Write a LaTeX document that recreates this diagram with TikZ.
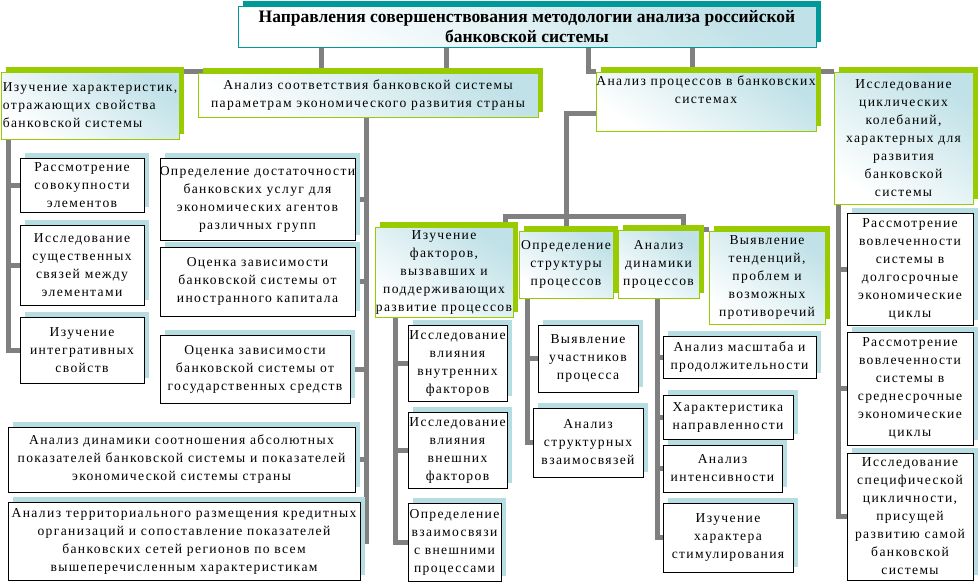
\documentclass[tikz,border=0pt]{standalone}
\usepackage{fontspec}
\setmainfont{Liberation Serif}
\newfontfamily\spacedfont{Liberation Serif}[LetterSpace=10]
\usepackage{tikz}
\usetikzlibrary{positioning,shadows,backgrounds}
\definecolor{NMTeal}{HTML}{009999}
\definecolor{NMGreen}{HTML}{99CC00}
\definecolor{NMShade}{HTML}{B5DDE2}
\definecolor{NMTint}{HTML}{BFE1E7}
\definecolor{NMLink}{HTML}{808080}

\begin{document}
\begin{tikzpicture}[x=1pt,y=-1pt,
    link/.style={draw=NMLink,line width=5pt},
    titlebox/.style={draw=NMTeal,shading=axis,top color=NMTint,bottom color=white,shading angle=-35,
      general shadow={fill=NMTeal,shadow xshift=5pt,shadow yshift=5pt},
      align=center,inner sep=0pt,font=\bfseries\fontsize{17.5}{20}\selectfont},
    groupbox/.style={draw=NMGreen,shading=axis,top color=NMTint,bottom color=white,shading angle=-35,
      general shadow={fill=NMGreen,shadow xshift=5pt,shadow yshift=5pt},
      align=center,inner sep=0pt,font=\spacedfont\fontsize{13.6}{18}\selectfont},
    itembox/.style={draw=black,fill=white,
      general shadow={fill=NMShade,shadow xshift=5pt,shadow yshift=5pt},
      align=center,inner sep=0pt,font=\spacedfont\fontsize{13.6}{18}\selectfont}]
    \useasboundingbox (0,0) rectangle (979,582);

    % top
    \node[titlebox,minimum width=578,minimum height=41] (title) at (527,26.5)
      {Направления совершенствования методологии анализа российской\\банковской системы};

    % first level
    \node[groupbox,align=left,minimum width=178,minimum height=67] (a1) at (90,105.5)
      {Изучение характеристик,\\отражающих свойства\\банковской системы};
    \node[groupbox,minimum width=340,minimum height=44] (a2) at (368,95)
      {Анализ соответствия банковской системы\\параметрам экономического развития страны};
    \node[groupbox,minimum width=220,minimum height=59] (a3) at (706,101.5)
      {Анализ процессов в банковских\\системах\\\strut};
    \node[groupbox,minimum width=139,minimum height=132] (a4) at (903.5,138)
      {Исследование\\циклических\\колебаний,\\характерных для\\развития\\банковской\\системы};

    % characteristics
    \node[itembox,minimum width=124,minimum height=54] (b1) at (82,185) {Рассмотрение\\совокупности\\элементов};
    \node[itembox,minimum width=124,minimum height=80] (b2) at (82,265) {Исследование\\существенных\\связей между\\элементами};
    \node[itembox,minimum width=124,minimum height=66] (b3) at (82,350) {Изучение\\интегративных\\свойств};

    % correspondence
    \node[itembox,minimum width=195,minimum height=82] (c1) at (257.5,199)
      {Определение достаточности\\банковских услуг для\\экономических агентов\\различных групп};
    \node[itembox,minimum width=195,minimum height=69] (c2) at (257.5,281.5)
      {Оценка зависимости\\банковской системы от\\иностранного капитала};
    \node[itembox,minimum width=190,minimum height=68] (c3) at (255,369)
      {Оценка зависимости\\банковской системы от\\государственных средств};
    \node[itembox,minimum width=347,minimum height=65] (c4) at (181.5,459.5)
      {Анализ динамики соотношения абсолютных\\показателей банковской системы и показателей\\экономической системы страны};
    \node[itembox,minimum width=352,minimum height=78] (c5) at (184,541)
      {Анализ территориального размещения кредитных\\организаций и сопоставление показателей\\банковских сетей регионов по всем\\вышеперечисленным характеристикам};

    % processes
    \node[groupbox,minimum width=138,minimum height=90] (d1) at (444,272)
      {Изучение\\факторов,\\вызвавших и\\поддерживающих\\развитие процессов};
    \node[groupbox,minimum width=94,minimum height=67] (d2) at (566,264.5) {Определение\\структуры\\процессов};
    \node[groupbox,minimum width=81,minimum height=68] (d3) at (658.5,264) {Анализ\\динамики\\процессов};
    \node[groupbox,minimum width=116,minimum height=93] (d4) at (767,277.5)
      {Выявление\\тенденций,\\проблем и\\возможных\\противоречий};

    \node[itembox,minimum width=99,minimum height=76] (e1) at (457.5,363) {Исследование\\влияния\\внутренних\\факторов};
    \node[itembox,minimum width=99,minimum height=76] (e2) at (457.5,450) {Исследование\\влияния\\внешних\\факторов};
    \node[itembox,minimum width=93,minimum height=78] (e3) at (454.5,542) {Определение\\взаимосвязи\\с внешними\\процессами};

    \node[itembox,minimum width=100,minimum height=67] (f1) at (588,358.5) {Выявление\\участников\\процесса};
    \node[itembox,minimum width=110,minimum height=69] (f2) at (588,442.5) {Анализ\\структурных\\взаимосвязей};

    \node[itembox,minimum width=153,minimum height=42] (g1) at (739.5,357) {Анализ масштаба и\\продолжительности};
    \node[itembox,minimum width=130,minimum height=44] (g2) at (728,417) {Характеристика\\направленности};
    \node[itembox,minimum width=119,minimum height=47] (g3) at (722.5,468.5) {Анализ\\интенсивности};
    \node[itembox,minimum width=130,minimum height=69] (g4) at (728,537.5) {Изучение\\характера\\стимулирования};

    % cycles
    \node[itembox,minimum width=126,minimum height=112] (h1) at (910,269)
      {Рассмотрение\\вовлеченности\\системы в\\долгосрочные\\экономические\\циклы};
    \node[itembox,minimum width=126,minimum height=113] (h2) at (910,388.5)
      {Рассмотрение\\вовлеченности\\системы в\\среднесрочные\\экономические\\циклы};
    \node[itembox,minimum width=126,minimum height=127] (h3) at (910,516.5)
      {Исследование\\специфической\\цикличности,\\присущей\\развитию самой\\банковской\\системы};

    \begin{scope}[on background layer]
      \draw[link] (title.south -| 321,0) |- (a1.north east);
      \draw[link] (title.south -| 446,0) -- (a2.north -| 446,0);
      \draw[link] (title.south -| 588,0) |- (a3.north west);
      \draw[link] (title.south -| 692,0) -- (a3.north -| 692,0);
      \draw[link] (a3.north east) -- (a4.north west);
      \foreach \n in {b1,b2,b3} \draw[link] (a1.south -| 8,0) |- (\n.west);
      \foreach \n in {c1,c2,c3,c4,c5} \draw[link] (a2.south -| 366,0) |- (\n.east);
      \coordinate (dbus) at (567,216);
      \draw[link] ([yshift=-11.5pt]a3.west) -| (d2.north);
      \draw[link] ([xshift=-8pt]d1.north east) |- (dbus) -| ([xshift=-16pt]d3.north east);
      \draw[link] (d3.north east) -- (d3.north east -| d4.west);
      \foreach \n in {e1,e2,e3} \draw[link] (d1.south -| 395,0) |- (\n.west);
      \foreach \n in {f1,f2} \draw[link] (d2.south -| 527,0) |- (\n.west);
      \foreach \n in {g1,g2,g3,g4} \draw[link] (d3.south -| 657,0) |- (\n.west);
      \foreach \n in {h1,h2,h3} \draw[link] (a4.south -| 838,0) |- (\n.west);
    \end{scope}
  \end{tikzpicture}
\end{document}
